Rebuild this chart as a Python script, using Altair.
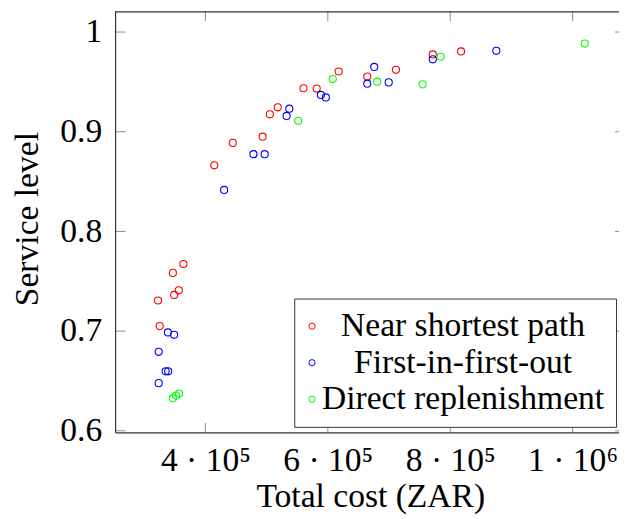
import altair as alt
import pandas as pd

series_names = ["Near shortest path", "First-in-first-out", "Direct replenishment"]
series_colors = ["#ff0000", "#0000ff", "#00ff00"]

nsp_cost = [617700, 560200, 581800, 518200, 505300, 493500, 444700, 414500, 817700,
            771500, 711300, 664500, 364000, 346800, 356500, 348900, 322600, 325300]
nsp_service = [0.9604, 0.9436, 0.9433, 0.9245, 0.9175, 0.8950, 0.8888, 0.8663, 0.9805,
               0.9775, 0.9621, 0.9554, 0.7673, 0.7584, 0.7409, 0.7363, 0.7307, 0.7050]
fifo_cost = [588700, 596800, 537100, 532700, 478500, 496800, 430600, 875300, 771500,
             675800, 664500, 699500, 338700, 348900, 323700, 335000, 339200, 323700]
fifo_service = [0.9369, 0.9344, 0.9231, 0.9158, 0.8775, 0.8775, 0.8416, 0.9812, 0.9726,
                0.9650, 0.9482, 0.9495, 0.6987, 0.6963, 0.6792, 0.6597, 0.6597, 0.6478]
dr_cost = [608100, 551600, 1019800, 784400, 680600, 754800, 346800, 352100, 357000]
dr_service = [0.9528, 0.9109, 0.9884, 0.9752, 0.9502, 0.9475, 0.6327, 0.6353, 0.6373]

x_ticks = [400000, 600000, 800000, 1000000]
x_tick_labels = ["4 · 10⁵", "6 · 10⁵", "8 · 10⁵", "1 · 10⁶"]
y_ticks = [0.6, 0.7, 0.8, 0.9, 1.0]
y_tick_labels = ["0.6", "0.7", "0.8", "0.9", "1"]

# visible part of the axis box (the reference picture is cropped on the right)
x_domain = [253226, 1075800]
y_domain = [0.598, 1.0208]

rows = []
for name, cs, ss in zip(series_names, [nsp_cost, fifo_cost, dr_cost],
                        [nsp_service, fifo_service, dr_service]):
    for c, s in zip(cs, ss):
        rows.append({"series": name, "cost": c, "service": s})
df = pd.DataFrame(rows)

W, H = 510, 427
FONT = "Liberation Serif"
FS = 34
TICK = "#8c8c8c"
FRAME = "#333333"


def label_expr(values, labels):
    expr = "''"
    for v, l in reversed(list(zip(values, labels))):
        expr = f"abs(datum.value - {v}) < 1e-6 * {max(abs(v), 1)} ? '{l}' : ({expr})"
    return expr


x_axis = alt.Axis(title="Total cost (ZAR)", values=x_ticks,
                  labelExpr=label_expr(x_ticks, x_tick_labels),
                  ticks=False, tickSize=0, domain=False, grid=False,
                  labelFont=FONT, labelFontSize=FS, labelColor="black",
                  labelBaseline="alphabetic", labelPadding=38, labelFlush=False,
                  labelOverlap=False,
                  titleFont=FONT, titleFontSize=FS, titleFontWeight="normal",
                  titleColor="black", titleBaseline="alphabetic", titleY=75,
                  titleX=258, titleAlign="center")
y_axis = alt.Axis(title="Service level", values=y_ticks,
                  labelExpr=label_expr(y_ticks, y_tick_labels),
                  ticks=False, tickSize=0, domain=False, grid=False,
                  labelFont=FONT, labelFontSize=FS, labelColor="black",
                  labelBaseline="middle", labelPadding=14, labelFlush=False,
                  labelOverlap=False,
                  titleFont=FONT, titleFontSize=FS, titleFontWeight="normal",
                  titleColor="black", titleAngle=270, titleBaseline="alphabetic",
                  titleAlign="center", titleX=-79, titleY=210)
x_scale = alt.Scale(domain=x_domain, nice=False, zero=False)
y_scale = alt.Scale(domain=y_domain, nice=False, zero=False)

pts = alt.Chart(df).mark_point(filled=False, size=52, strokeWidth=1.1, opacity=1).encode(
    x=alt.X("cost:Q", scale=x_scale, axis=x_axis),
    y=alt.Y("service:Q", scale=y_scale, axis=y_axis),
    color=alt.Color("series:N",
                    scale=alt.Scale(domain=series_names, range=series_colors),
                    legend=alt.Legend(title=None, orient="none", legendX=181, legendY=291,
                                      padding=11, strokeColor=FRAME, fillColor="white",
                                      labelFont=FONT, labelFontSize=FS, labelColor="black",
                                      labelAlign="center", labelOffset=136, labelLimit=500,
                                      symbolType="circle", symbolSize=40, symbolStrokeWidth=1,
                                      symbolOffset=-10, rowPadding=3)),
)

xt = pd.DataFrame({"cost": x_ticks})
yt = pd.DataFrame({"service": y_ticks})
one = pd.DataFrame({"k": [0]})

tick_bottom = alt.Chart(xt).mark_rule(color=TICK, strokeWidth=1).encode(
    x=alt.X("cost:Q", scale=x_scale, axis=x_axis), y=alt.value(H), y2=alt.value(H - 10))
tick_top = alt.Chart(xt).mark_rule(color=TICK, strokeWidth=1).encode(
    x=alt.X("cost:Q", scale=x_scale, axis=x_axis), y=alt.value(0), y2=alt.value(10))
tick_left = alt.Chart(yt).mark_rule(color=TICK, strokeWidth=1).encode(
    y=alt.Y("service:Q", scale=y_scale, axis=y_axis), x=alt.value(0), x2=alt.value(10))
tick_right = alt.Chart(yt).mark_rule(color=TICK, strokeWidth=1).encode(
    y=alt.Y("service:Q", scale=y_scale, axis=y_axis), x=alt.value(W), x2=alt.value(W - 4))

frame_top = alt.Chart(one).mark_rule(color=FRAME, strokeWidth=1.2).encode(
    x=alt.value(0), x2=alt.value(W), y=alt.value(0.6))
frame_bottom = alt.Chart(one).mark_rule(color=FRAME, strokeWidth=1.2).encode(
    x=alt.value(0), x2=alt.value(W), y=alt.value(H))
frame_left = alt.Chart(one).mark_rule(color=FRAME, strokeWidth=1.2).encode(
    x=alt.value(0), y=alt.value(0), y2=alt.value(H))

chart = alt.layer(tick_bottom, tick_top, tick_left, tick_right,
                  frame_top, frame_bottom, frame_left, pts).properties(
    width=W, height=H,
    autosize=alt.AutoSizeParams(type="none"),
    padding={"left": 109, "top": 0, "right": 0, "bottom": 84},
).configure(font=FONT).configure_view(stroke="transparent")

chart.save("out.html", embed_options={"renderer": "svg", "actions": False})
